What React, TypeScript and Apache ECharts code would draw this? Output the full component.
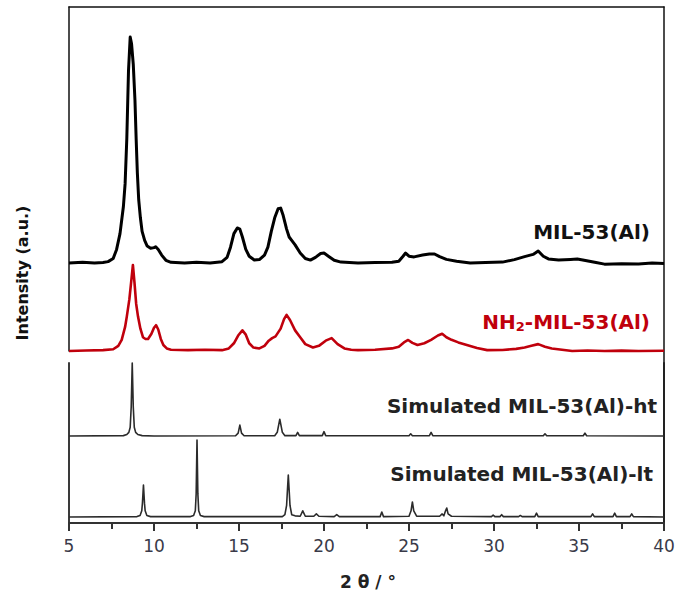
import React, { useEffect, useRef } from "react";
import * as echarts from "echarts";

// 2θ range of the pattern axis
const xMin = 5;
const xMax = 40;
const xInterval = 5;

// Relative intensities (% of each pattern's strongest reflection), [2θ, I]
const mil53: [number, number][] = [
  [5, 0], [5.8, 0.3], [6.5, 0], [7.0, 0.2], [7.3, 0.6], [7.6, 2], [7.8, 6], [8.0, 13], [8.2, 25], [8.3, 35],
  [8.4, 55], [8.5, 85], [8.6, 100], [8.68, 97], [8.78, 88], [8.88, 72], [8.95, 55], [9.02, 40], [9.1, 28],
  [9.2, 20], [9.3, 14], [9.45, 10], [9.6, 7.5], [9.8, 6.5], [10.0, 6.8], [10.1, 7.2], [10.25, 6], [10.45, 3.5],
  [10.7, 1.2], [11.0, 0.3], [11.8, 0], [12.5, 0.3], [13.3, 0], [14.0, 0.6], [14.3, 2.5], [14.5, 7], [14.7, 13],
  [14.9, 15.5], [15.05, 15], [15.2, 11.5], [15.4, 6], [15.6, 3], [15.9, 1.3], [16.2, 1.5], [16.5, 3.5],
  [16.7, 7], [16.9, 14], [17.1, 20], [17.3, 24], [17.45, 24.3], [17.6, 21], [17.8, 15], [17.95, 11.5],
  [18.1, 10], [18.3, 8], [18.6, 4.4], [18.9, 2], [19.2, 1.3], [19.5, 2.5], [19.8, 4.2], [20.0, 4.4],
  [20.3, 2.8], [20.6, 1.2], [21.0, 0.4], [22.0, 0], [23.0, 0.2], [24.0, 0.3], [24.4, 0.8], [24.65, 3],
  [24.8, 4.4], [25.0, 3], [25.3, 2.7], [25.8, 3.5], [26.2, 4], [26.5, 4], [26.8, 2.8], [27.2, 1.6],
  [27.8, 0.8], [28.6, 0], [29.5, 0.2], [30.5, 0.4], [31.2, 1.5], [31.8, 2.8], [32.3, 3.8], [32.6, 5.3],
  [32.9, 3], [33.2, 1.8], [33.8, 1.3], [34.5, 1.6], [34.9, 1.8], [35.3, 1.2], [36.0, 0.2], [36.5, -0.5],
  [37.5, -0.3], [38.5, -0.4], [39.3, 0], [40, -0.2],
];

const nh2mil53: [number, number][] = [
  [5, 0], [6, 0.5], [7, 1], [7.6, 2], [7.9, 6], [8.1, 13], [8.3, 28], [8.4, 40], [8.55, 60], [8.65, 79],
  [8.76, 100], [8.85, 80], [8.95, 55], [9.06, 40], [9.2, 26], [9.35, 16], [9.5, 14], [9.65, 14], [9.85, 20],
  [10.0, 27], [10.12, 30], [10.25, 25], [10.4, 14], [10.55, 7], [10.75, 3], [11.0, 1.5], [12.0, 1],
  [13.0, 1.5], [14.0, 1], [14.4, 3], [14.7, 9], [14.95, 18], [15.2, 24], [15.4, 19], [15.6, 9],
  [15.85, 4], [16.2, 3], [16.5, 6], [16.75, 12], [16.95, 15], [17.15, 17], [17.45, 26], [17.65, 37], [17.8, 42],
  [18.0, 36], [18.3, 24], [18.6, 16], [18.9, 8], [19.35, 4], [19.7, 6], [20.1, 12],
  [20.45, 15], [20.8, 8], [21.2, 3], [21.6, 1.5], [22.0, 1], [23.0, 1.5], [24.0, 3], [24.4, 5], [24.7, 10],
  [24.95, 12.8], [25.2, 9.5], [25.5, 7], [25.9, 9], [26.3, 13], [26.7, 18], [26.95, 20], [27.2, 16],
  [27.5, 13], [27.9, 10], [28.4, 7], [29.0, 3.5], [29.6, 1], [30.5, 1.2], [31.3, 2.5], [31.8, 4], [32.2, 6],
  [32.6, 8], [33.0, 5], [33.4, 3], [34.0, 1.5], [34.6, 0], [35.5, 0.5], [36.5, 0], [37.5, 0.4], [38.5, 0],
  [40, 0.3],
];

const simulatedHt: [number, number][] = [
  [5, 0], [8.2, 0.5], [8.4, 2], [8.52, 5], [8.6, 12], [8.66, 40], [8.72, 100], [8.78, 40], [8.84, 12],
  [8.92, 5], [9.05, 2], [9.3, 0.5], [10, 0], [14.8, 0.3], [14.95, 4], [15.05, 15], [15.15, 4], [15.3, 0.3],
  [17.1, 0.5], [17.25, 5], [17.4, 23], [17.55, 5], [17.7, 0.5], [18.35, 0.5], [18.45, 5], [18.55, 0.5],
  [19.9, 0.5], [20.0, 6], [20.1, 0.5], [25.0, 0.3], [25.1, 3], [25.2, 0.3], [26.2, 0.5], [26.3, 5],
  [26.4, 0.5], [32.9, 0.3], [33.0, 3], [33.1, 0.3], [35.25, 0.3], [35.35, 4], [35.45, 0.3], [40, 0],
];

const simulatedLt: [number, number][] = [
  [5, 0], [9.0, 0.5], [9.18, 2], [9.28, 8], [9.32, 18], [9.38, 41.5], [9.44, 18], [9.48, 8], [9.58, 2], [9.8, 0.5],
  [12.15, 0.5], [12.33, 2], [12.43, 8], [12.48, 30], [12.53, 100], [12.58, 30], [12.63, 8], [12.73, 2],
  [12.95, 0.5], [17.55, 0.5], [17.7, 3], [17.8, 15], [17.85, 35], [17.9, 54.5], [17.95, 35], [18.0, 15],
  [18.1, 3], [18.3, 1.5], [18.6, 1], [18.75, 8], [18.9, 1], [19.4, 1], [19.55, 4], [19.7, 1], [20.6, 0.5],
  [20.75, 3], [20.9, 0.5], [23.3, 0.5], [23.4, 6.5], [23.5, 0.5], [25.0, 1], [25.12, 8], [25.2, 19.5],
  [25.28, 8], [25.45, 1], [26.8, 1], [26.95, 4], [27.05, 1.5], [27.15, 8], [27.22, 11.7], [27.3, 4],
  [27.5, 1], [29.85, 0.5], [29.95, 2.5], [30.05, 0.5], [30.35, 0.5], [30.45, 3], [30.55, 0.5], [31.45, 0.5],
  [31.55, 2], [31.65, 0.5], [32.4, 0.5], [32.5, 5], [32.6, 0.5], [35.7, 0.5], [35.8, 4], [35.9, 0.5],
  [37.0, 0.5], [37.1, 5], [37.2, 0.5], [38.0, 0.5], [38.1, 4], [38.2, 0.5], [40, 0],
];

const seriesNames = ["MIL-53(Al)", "NH2-MIL-53(Al)", "Simulated MIL-53(Al)-ht", "Simulated MIL-53(Al)-lt"];
const xTitle = "2 θ / °";
const yTitle = "Intensity (a.u.)";

const FONT = '"DejaVu Sans", sans-serif';
const RED = "#c0000c";

export default function App() {
  const ref = useRef<HTMLDivElement>(null);
  useEffect(() => {
    if (!ref.current) return;
    const chart = echarts.init(ref.current, null, { renderer: "svg" });
    const L = 69;
    const W = 595;
    const grids = [
      { left: L, width: W, top: 7, height: 344 },
      { left: L, width: W, top: 7, height: 356 },
      { left: L, width: W, top: 363, height: 160 },
      { left: L, width: W, top: 37, height: 226 },
      { left: L, width: W, top: 265, height: 86 },
      { left: L, width: W, top: 363, height: 73 },
      { left: L, width: W, top: 440, height: 77 },
    ];
    const hiddenX = (i: number) => ({ type: "value", gridIndex: i, min: xMin, max: xMax, show: false });
    const frameY = (i: number, pos: string, color: string, width: number) => ({
      type: "value", gridIndex: i, min: 0, max: 1, position: pos,
      axisLine: { show: true, onZero: false, lineStyle: { color, width } },
      axisTick: { show: false }, axisLabel: { show: false }, splitLine: { show: false },
    });
    const curveY = (i: number) => ({ type: "value", gridIndex: i, min: 0, max: 100, show: false, splitLine: { show: false } });
    const lineSeries = (name: string, data: [number, number][], idx: number, yIdx: number, color: string, width: number) => ({
      name, type: "line", xAxisIndex: idx, yAxisIndex: yIdx, data, showSymbol: false, symbol: "none",
      clip: false, lineStyle: { color, width, join: "round" }, silent: true,
    });
    chart.setOption({
      animation: false,
      grid: grids,
      xAxis: [
        {
          type: "value", gridIndex: 0, min: xMin, max: xMax, position: "top",
          axisLine: { show: true, onZero: false, lineStyle: { color: "#111", width: 1.5 } },
          axisTick: { show: false }, axisLabel: { show: false }, splitLine: { show: false },
        },
        hiddenX(1),
        {
          type: "value", gridIndex: 2, min: xMin, max: xMax, interval: xInterval, position: "bottom",
          axisLine: { show: true, onZero: false, lineStyle: { color: "#333", width: 2 } },
          axisTick: { show: true, inside: false, length: 8, lineStyle: { color: "#333", width: 2 } },
          minorTick: { show: true, splitNumber: 2, length: 6, lineStyle: { color: "#333", width: 2 } },
          axisLabel: { show: true, margin: 14, fontFamily: FONT, fontSize: 17, color: "#3a3a48" },
          splitLine: { show: false }, minorSplitLine: { show: false },
        },
        hiddenX(3), hiddenX(4), hiddenX(5), hiddenX(6),
      ],
      yAxis: [
        frameY(0, "left", "#111", 1.5),
        frameY(1, "right", "#111", 1.5),
        frameY(2, "left", "#3a3a3a", 2),
        frameY(2, "right", "#222", 2),
        curveY(3), curveY(4), curveY(5), curveY(6),
      ],
      series: [
        lineSeries(seriesNames[0], mil53, 3, 4, "#000", 3),
        lineSeries(seriesNames[1], nh2mil53, 4, 5, RED, 2.6),
        lineSeries(seriesNames[2], simulatedHt, 5, 6, "#2b2b2b", 1.6),
        lineSeries(seriesNames[3], simulatedLt, 6, 7, "#2b2b2b", 1.6),
      ],
      graphic: [
        {
          type: "text", x: 650, y: 232,
          style: { text: seriesNames[0], font: `bold 20px ${FONT}`, fill: "#111", textAlign: "right", textVerticalAlign: "middle" },
        },
        {
          type: "text", x: 650, y: 322,
          style: {
            text: "{a|NH}{s|2}{a|-MIL-53(Al)}", textAlign: "right", textVerticalAlign: "middle",
            rich: {
              a: { fontFamily: FONT, fontWeight: "bold", fontSize: 20, fill: RED, lineHeight: 24 },
              s: { fontFamily: FONT, fontWeight: "bold", fontSize: 13, fill: RED, lineHeight: 24, padding: [9, 0, 0, 0] },
            },
          },
        },
        {
          type: "text", x: 657, y: 406,
          style: { text: seriesNames[2], font: `bold 20px ${FONT}`, fill: "#222", textAlign: "right", textVerticalAlign: "middle" },
        },
        {
          type: "text", x: 653, y: 474,
          style: { text: seriesNames[3], font: `bold 20px ${FONT}`, fill: "#222", textAlign: "right", textVerticalAlign: "middle" },
        },
        {
          type: "text", x: 368, y: 582,
          style: { text: xTitle, font: `bold 17px ${FONT}`, fill: "#222", textAlign: "center", textVerticalAlign: "middle" },
        },
        {
          type: "text", x: 22, y: 273, rotation: Math.PI / 2,
          style: { text: yTitle, font: `bold 16px ${FONT}`, fill: "#111", textAlign: "center", textVerticalAlign: "middle" },
        },
      ],
    });
    return () => chart.dispose();
  }, []);
  return <div ref={ref} style={{ position: "absolute", left: 0, top: 0, width: 678, height: 595 }} />;
}
